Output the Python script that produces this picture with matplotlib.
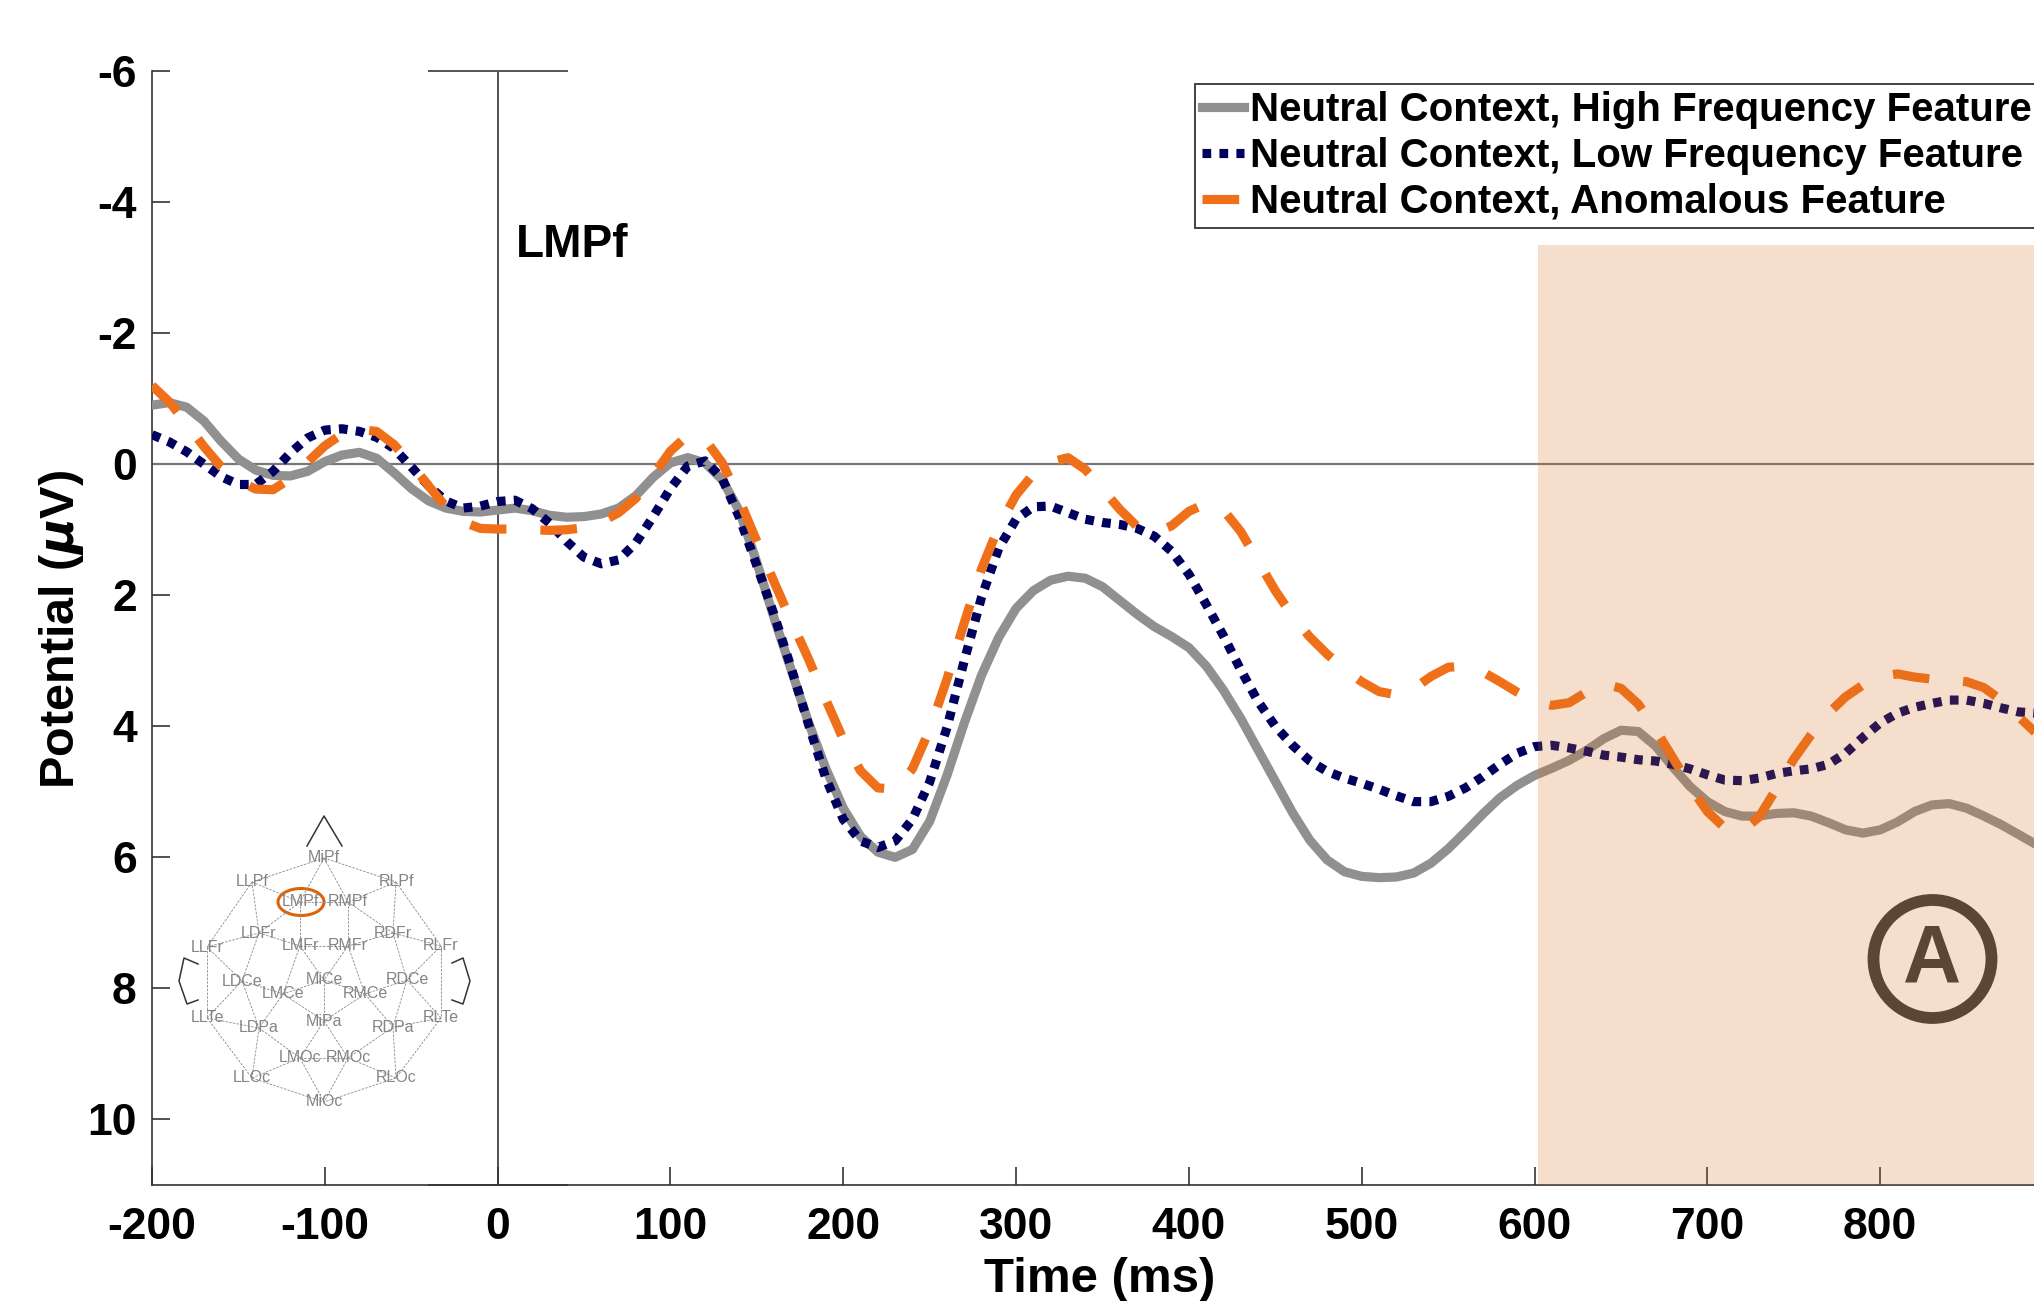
import numpy as np
import matplotlib
matplotlib.use("Agg")
import matplotlib.pyplot as plt
from matplotlib.patches import Ellipse

# values, one every 10 ms
time_ms = np.arange(-200, 900, 10)

high_freq = [-.9, -.94, -.87, -.66, -.35, -.08, .09, .17, .18, .11, -.04, -.14, -.18, -.09, .13, .37, .56, .67, .72, .73,
             .7, .67, .71, .78, .81, .8, .76, .67, .48, .2, -.02, -.1, -.02, .24, .72, 1.5, 2.35, 3.15, 3.95, 4.65,
             5.25, 5.68, 5.92, 6.0, 5.88, 5.45, 4.75, 3.95, 3.22, 2.64, 2.2, 1.93, 1.77, 1.71, 1.74, 1.87, 2.08, 2.29, 2.48, 2.63,
             2.8, 3.08, 3.45, 3.88, 4.36, 4.84, 5.32, 5.74, 6.04, 6.22, 6.29, 6.31, 6.3, 6.24, 6.09, 5.87, 5.61, 5.34, 5.09, 4.9,
             4.75, 4.64, 4.52, 4.37, 4.19, 4.06, 4.08, 4.3, 4.62, 4.92, 5.15, 5.3, 5.37, 5.37, 5.33, 5.32, 5.37, 5.47, 5.58, 5.63,
             5.58, 5.46, 5.3, 5.2, 5.18, 5.25, 5.37, 5.5, 5.65, 5.8]

low_freq = [-.45, -.34, -.19, .0, .19, .31, .31, .11, -.17, -.4, -.52, -.54, -.5, -.41, -.24, .04, .33, .56, .67, .64,
            .57, .55, .68, .9, 1.18, 1.42, 1.52, 1.46, 1.2, .8, .37, .03, -.05, .22, .82, 1.55, 2.3, 3.12, 3.98, 4.8,
            5.42, 5.75, 5.85, 5.75, 5.42, 4.85, 4.02, 3.0, 2.03, 1.28, .84, .65, .64, .74, .84, .89, .92, .98, 1.1, 1.33,
            1.68, 2.14, 2.62, 3.14, 3.62, 4.0, 4.29, 4.53, 4.69, 4.79, 4.87, 4.96, 5.06, 5.15, 5.15, 5.07, 4.94, 4.77, 4.58, 4.41,
            4.31, 4.29, 4.33, 4.38, 4.44, 4.47, 4.51, 4.53, 4.58, 4.65, 4.74, 4.82, 4.83, 4.79, 4.72, 4.68, 4.65, 4.58, 4.41, 4.17,
            3.95, 3.8, 3.71, 3.65, 3.6, 3.6, 3.65, 3.72, 3.78, 3.8]

anomalous = [-1.2, -.95, -.62, -.27, .04, .25, .38, .39, .22, -.03, -.28, -.46, -.53, -.5, -.3, 0, .33, .65, .88, .98,
             .99, .99, 1.0, 1.01, 1.0, .97, .88, .74, .52, .17, -.2, -.44, -.38, -.02, .55, 1.18, 1.8, 2.4, 2.98, 3.6,
             4.2, 4.68, 4.94, 4.96, 4.65, 4.05, 3.28, 2.42, 1.6, .95, .47, .15, -.03, -.1, .08, .38, .69, .95, 1.05, .94,
             .72, .6, .7, 1.03, 1.48, 1.93, 2.32, 2.64, 2.9, 3.13, 3.32, 3.47, 3.52, 3.43, 3.24, 3.1, 3.08, 3.17, 3.32, 3.48,
             3.62, 3.68, 3.64, 3.48, 3.35, 3.42, 3.66, 4.05, 4.48, 4.92, 5.3, 5.55, 5.6, 5.38, 4.95, 4.5, 4.13, 3.8, 3.55, 3.37,
             3.24, 3.2, 3.25, 3.28, 3.29, 3.32, 3.41, 3.6, 3.85, 4.1]

series_labels = ["Neutral Context, High Frequency Feature",
                 "Neutral Context, Low Frequency Feature",
                 "Neutral Context, Anomalous Feature"]
x_ticks = list(range(-200, 900, 100))
y_ticks = list(range(-6, 12, 2))

# electrode map, positions are pixels of the picture
electrodes = {"MiPf": (324, 858), "LLPf": (252, 882), "RLPf": (396, 882), "LMPf": (300, 902), "RMPf": (348, 902),
              "LDFr": (259, 933), "RDFr": (393, 933), "LLFr": (207, 947), "LMFr": (300, 946), "RMFr": (348, 946),
              "RLFr": (441, 946), "LDCe": (242, 981), "MiCe": (324, 980), "RDCe": (407, 980), "LMCe": (283, 994),
              "RMCe": (365, 994), "LLTe": (207, 1018), "RLTe": (441, 1018), "LDPa": (259, 1028), "MiPa": (324, 1021),
              "RDPa": (393, 1027), "LMOc": (300, 1058), "RMOc": (348, 1058), "LLOc": (252, 1078), "RLOc": (396, 1078),
              "MiOc": (324, 1102)}
links = ["MiPf LLPf", "MiPf RLPf", "MiPf LMPf", "MiPf RMPf", "LLPf LMPf", "RLPf RMPf", "LMPf RMPf", "LLPf LLFr",
         "RLPf RLFr", "LLPf LDFr", "RLPf RDFr", "LMPf LDFr", "RMPf RDFr", "LMPf LMFr", "RMPf RMFr", "LLFr LDFr",
         "RLFr RDFr", "LDFr LMFr", "RDFr RMFr", "LMFr RMFr", "LLFr LDCe", "RLFr RDCe", "LLFr LLTe", "RLFr RLTe",
         "LDFr LDCe", "RDFr RDCe", "LMFr LMCe", "RMFr RMCe", "LMFr MiCe", "RMFr MiCe", "LDCe LMCe", "RDCe RMCe",
         "MiCe LMCe", "MiCe RMCe", "MiCe MiPa", "LDCe LLTe", "RDCe RLTe", "LDCe LDPa", "RDCe RDPa", "LMCe LDPa",
         "RMCe RDPa", "LMCe MiPa", "RMCe MiPa", "LLTe LDPa", "RLTe RDPa", "LLTe LLOc", "RLTe RLOc", "LDPa LLOc",
         "RDPa RLOc", "LDPa LMOc", "RDPa RMOc", "MiPa LMOc", "MiPa RMOc", "LMOc RMOc", "LLOc LMOc", "RLOc RMOc",
         "LMOc MiOc", "RMOc MiOc", "LLOc MiOc", "RLOc MiOc"]
nose = [(307, 846), (324, 816), (342, 846)]
left_ear = [(198, 964), (184, 958), (179, 981), (187, 1004), (198, 1000)]
right_ear = [(452, 963), (463, 958), (470, 981), (463, 1004), (452, 1000)]

plt.rcParams['font.family'] = ['Liberation Sans', 'DejaVu Sans']
plt.rcParams['font.weight'] = 'bold'
plt.rcParams['axes.unicode_minus'] = False

fig = plt.figure(figsize=(20.34, 13.01), dpi=100)
ax = fig.add_axes([152 / 2034, 1 - 1185 / 1301, 1 - 152 / 2034, (1185 - 71) / 1301])

ax.plot(time_ms, high_freq, color="#909090", lw=6.6, solid_joinstyle="round", label=series_labels[0], zorder=3)
ax.plot(time_ms, low_freq, color="#00005f", lw=6.6, ls=(0, (0.95, 0.9)), dash_joinstyle="round",
        label=series_labels[1], zorder=3)
ax.plot(time_ms, anomalous, color="#f0701a", lw=6.6, ls=(0, (4.0, 3.7)), dash_joinstyle="round",
        label=series_labels[2], zorder=3)

# zero line and the cross at stimulus onset
ax.axhline(0, color="#777777", lw=1.6, zorder=2)
ax.axvline(0, color="#333333", lw=1.2, zorder=2)
ax.plot([-40, 40], [-6, -6], color="#555555", lw=1.4, clip_on=False)
ax.plot([-40, 40], [11, 11], color="#555555", lw=1.4, clip_on=False)

# shaded window sits over the curves and tints them
ax.fill_between([602, 889], -3.35, 11, color="#d66d1b", alpha=0.22, lw=0, zorder=5)

ax.set_xlim(-200, 889)
ax.set_ylim(11, -6)
ax.set_xticks(x_ticks)
ax.set_yticks(y_ticks)
ax.tick_params(direction="in", length=13, width=1.2, color="#333333", labelsize=32)
ax.tick_params(axis="x", pad=16)
ax.tick_params(axis="y", pad=11)
for s in ["top", "right"]:
    ax.spines[s].set_visible(False)
for s in ["left", "bottom"]:
    ax.spines[s].set_linewidth(1.2)
    ax.spines[s].set_color("#333333")

ax.set_xlabel("Time (ms)", fontsize=35.5, fontweight="bold")
ax.xaxis.set_label_coords((1100 - 152) / 1882, (1185 - 1280) / 1114, transform=ax.transAxes)
ax.xaxis.label.set_va("center")
ax.set_ylabel(r"Potential ($\mu$V)", fontsize=35, fontweight="bold")
ax.yaxis.set_label_coords((62 - 152) / 1882, (1185 - 629) / 1114, transform=ax.transAxes)
ax.yaxis.label.set_va("center")

ax.text(10.6, -3.35, "LMPf", fontsize=33, fontweight="bold", va="center", ha="left", zorder=6)

leg = ax.legend(loc="upper left", bbox_to_anchor=(1195 / 2034, 1 - 84 / 1301), bbox_transform=fig.transFigure,
                fontsize=29, frameon=True, fancybox=False, framealpha=1, edgecolor="#333333",
                borderaxespad=0, borderpad=0.17, labelspacing=0.2, handlelength=1.05, handletextpad=0.14)
leg.get_frame().set_linewidth(1.3)
leg.set_zorder(7)

# overlay in picture pixels for the electrode map and the badge
top = fig.add_axes([0, 0, 1, 1], zorder=8)
top.set_xlim(0, 2034)
top.set_ylim(1301, 0)
top.axis("off")

for link in links:
    a, b = link.split()
    top.plot([electrodes[a][0], electrodes[b][0]], [electrodes[a][1], electrodes[b][1]],
             color="#8a8a8a", lw=0.6, ls=(0, (3, 1.5)))
for name, (ex, ey) in electrodes.items():
    top.text(ex, ey, name, fontsize=11.5, fontweight="normal", color="#858585", ha="center", va="center")
for shape in [nose, left_ear, right_ear]:
    top.plot([p[0] for p in shape], [p[1] for p in shape], color="#333333", lw=1.1)
top.add_patch(Ellipse((301, 902), 46, 27, fill=False, edgecolor="#d9660f", lw=2.2))

top.add_patch(Ellipse((1932.5, 959), 118, 118, fill=False, edgecolor="#5b4636", lw=8.5))
top.text(1932.5, 960, "A", fontsize=58, fontweight="bold", color="#5b4636", ha="center", va="center")

fig.savefig("out.png", dpi=100)
